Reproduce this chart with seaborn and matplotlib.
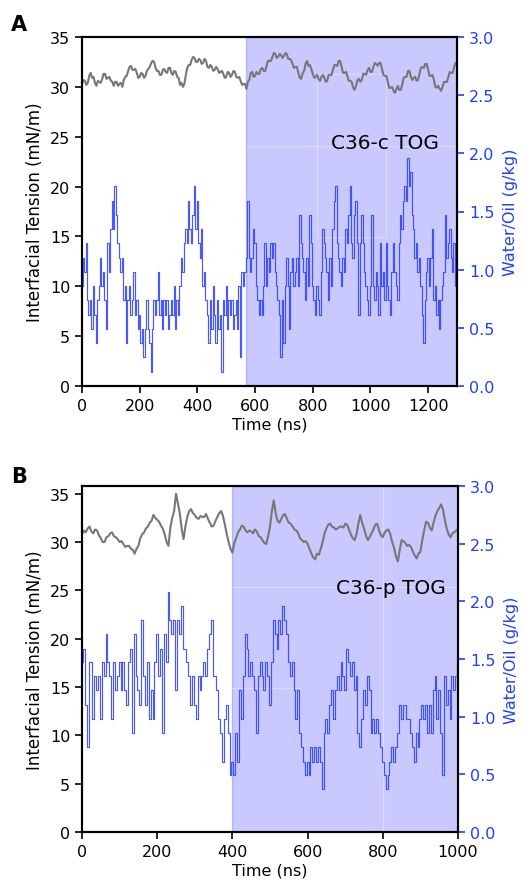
import numpy as np
import matplotlib
matplotlib.use("Agg")
import matplotlib.pyplot as plt
import seaborn as sns

sns.set_style("ticks")
plt.rcParams['font.family'] = ['DejaVu Sans']
plt.rcParams['text.color'] = 'black'
plt.rcParams['axes.labelcolor'] = 'black'
plt.rcParams['xtick.color'] = 'black'
plt.rcParams['ytick.color'] = 'black'

# ---------------- Panel A data (C36-c TOG) ----------------
time_a_w = np.arange(0, 1301, 5)
water_a = [
    0.86, 1.10, 0.98, 1.23, 0.74, 0.61, 0.74, 0.49, 0.86, 0.61,
    0.37, 0.74, 0.86, 1.10, 0.86, 0.98, 0.74, 0.49, 1.23, 0.98,
    1.35, 1.59, 1.35, 1.72, 1.47, 1.23, 1.10, 0.98, 1.10, 0.74,
    0.86, 0.37, 0.74, 0.86, 0.61, 0.74, 0.98, 0.61, 0.74, 0.49,
    0.61, 0.37, 0.49, 0.25, 0.49, 0.74, 0.49, 0.37, 0.12, 0.49,
    0.74, 0.61, 0.74, 0.98, 0.61, 0.74, 0.49, 0.74, 0.61, 0.74,
    0.49, 0.61, 0.74, 0.61, 0.86, 0.49, 0.74, 0.61, 0.86, 1.10,
    0.98, 1.23, 1.35, 1.23, 1.59, 1.35, 1.23, 1.47, 1.72, 1.35,
    1.59, 1.23, 1.10, 1.35, 0.86, 0.98, 0.74, 0.61, 0.37, 0.74,
    0.49, 0.86, 0.61, 0.37, 0.74, 0.49, 0.61, 0.12, 0.74, 0.61,
    0.86, 0.49, 0.74, 0.61, 0.74, 0.49, 0.61, 0.74, 0.49, 0.86,
    0.25, 0.98, 0.86, 0.98, 1.10, 1.59, 1.10, 0.98, 1.10, 1.35,
    1.23, 0.86, 0.74, 0.61, 0.74, 0.61, 0.86, 1.23, 0.86, 1.10,
    0.98, 1.23, 1.10, 1.23, 0.98, 0.86, 0.74, 0.61, 0.25, 0.74,
    0.37, 0.86, 1.10, 0.86, 0.49, 0.98, 1.10, 0.86, 0.98, 1.10,
    0.86, 1.47, 1.23, 1.10, 0.98, 0.74, 1.10, 0.86, 1.47, 1.23,
    0.86, 0.74, 0.61, 0.86, 0.74, 0.61, 0.98, 1.35, 1.23, 1.10,
    0.98, 0.74, 1.10, 0.86, 1.35, 1.59, 1.72, 1.23, 1.10, 0.98,
    0.86, 1.10, 0.98, 1.35, 1.23, 1.47, 1.72, 1.23, 1.10, 1.47,
    1.59, 1.23, 0.61, 1.23, 1.47, 1.23, 0.98, 0.86, 0.74, 0.61,
    0.86, 1.47, 0.86, 0.74, 0.98, 0.86, 0.61, 1.23, 0.86, 0.98,
    0.74, 1.23, 0.86, 0.74, 0.61, 0.98, 1.23, 0.98, 0.86, 0.74,
    1.23, 1.47, 1.35, 1.59, 1.72, 1.59, 1.96, 1.72, 1.84, 1.47,
    1.35, 1.10, 1.23, 0.98, 1.10, 0.86, 0.61, 0.37, 0.74, 0.98,
    1.10, 0.86, 1.10, 1.35, 0.74, 0.86, 0.61, 0.74, 0.49, 0.74,
    0.86, 0.98, 1.47, 1.10, 1.23, 1.35, 1.10, 0.98, 1.23, 0.86,
    1.10,
]

time_a_t = np.arange(0, 1301, 5)
tension_a = [
    30.3, 30.7, 30.6, 30.2, 30.4, 31.1, 31.4, 30.9, 31.0, 30.4,
    30.1, 30.6, 30.5, 30.4, 30.8, 31.3, 31.3, 30.8, 30.9, 31.0,
    30.6, 30.5, 30.1, 30.5, 30.5, 30.1, 30.3, 30.4, 30.0, 30.7,
    31.0, 31.1, 31.6, 32.0, 32.1, 31.7, 31.7, 31.8, 31.4, 30.9,
    31.0, 31.4, 31.3, 30.9, 31.1, 31.6, 31.8, 32.0, 32.4, 32.6,
    32.5, 31.9, 31.6, 31.6, 31.2, 31.2, 31.7, 31.8, 31.5, 31.4,
    31.9, 31.9, 31.4, 31.2, 31.6, 31.5, 31.0, 30.9, 30.2, 30.4,
    30.0, 30.3, 31.2, 31.9, 32.2, 32.2, 32.7, 33.0, 32.9, 32.5,
    32.5, 32.8, 32.7, 32.3, 32.4, 32.8, 32.6, 32.0, 31.9, 32.2,
    32.0, 31.6, 31.7, 32.0, 31.8, 31.4, 31.5, 31.6, 31.3, 30.9,
    31.0, 31.5, 31.4, 31.0, 31.2, 31.6, 31.5, 31.0, 30.9, 31.0,
    30.6, 30.2, 30.3, 30.3, 29.8, 30.5, 30.7, 31.4, 31.5, 31.0,
    31.1, 31.5, 31.3, 31.3, 31.8, 31.9, 31.6, 31.6, 32.1, 32.6,
    32.6, 32.6, 33.0, 33.4, 33.3, 32.9, 33.0, 33.3, 33.2, 32.9,
    33.1, 33.4, 33.3, 32.8, 32.8, 32.7, 32.3, 31.9, 32.0, 32.0,
    31.4, 30.9, 30.8, 31.4, 31.6, 32.3, 32.6, 32.1, 32.2, 31.8,
    31.3, 30.9, 31.0, 31.2, 30.8, 30.6, 31.0, 31.2, 30.9, 30.5,
    30.6, 31.2, 31.2, 31.2, 31.7, 32.2, 32.2, 32.1, 32.6, 32.6,
    32.0, 31.4, 31.4, 31.5, 31.1, 30.6, 30.6, 30.5, 29.9, 29.7,
    30.1, 30.7, 30.8, 30.5, 30.7, 31.3, 31.3, 31.2, 31.7, 31.9,
    31.5, 31.5, 32.0, 32.4, 32.3, 32.1, 32.4, 32.4, 31.8, 31.2,
    31.1, 31.1, 30.5, 29.9, 29.9, 30.0, 29.6, 29.4, 29.8, 30.1,
    29.7, 29.7, 30.2, 30.9, 31.0, 31.0, 31.6, 31.6, 31.0, 30.7,
    30.9, 31.0, 30.6, 30.7, 31.3, 31.9, 32.0, 31.9, 32.3, 32.3,
    31.7, 31.1, 31.1, 31.2, 30.7, 30.0, 29.9, 30.1, 29.8, 29.6,
    30.0, 30.5, 30.5, 30.5, 31.0, 31.5, 31.4, 31.4, 32.0, 32.4,
    32.2,
]

# ---------------- Panel B data (C36-p TOG) ----------------
time_b_w = np.arange(0, 1001, 5)
water_b = [
    1.47, 1.59, 1.10, 0.74, 1.47, 1.47, 0.98, 1.35, 1.23, 1.35,
    0.98, 1.47, 1.35, 1.72, 1.47, 1.35, 0.98, 1.47, 1.23, 1.35,
    1.47, 1.23, 1.47, 1.23, 1.10, 1.47, 1.59, 0.86, 1.72, 1.35,
    1.23, 1.10, 1.84, 1.35, 1.10, 1.47, 0.98, 1.23, 0.98, 1.47,
    1.72, 1.35, 1.59, 0.86, 1.72, 1.47, 2.08, 1.84, 1.72, 1.84,
    1.23, 1.84, 1.72, 1.96, 1.59, 1.59, 1.47, 1.35, 1.10, 1.35,
    1.10, 0.98, 1.35, 1.23, 1.35, 1.47, 1.35, 1.59, 1.72, 1.84,
    1.35, 1.35, 1.23, 0.98, 0.86, 0.61, 0.98, 1.10, 0.86, 0.49,
    0.61, 0.49, 0.86, 0.61, 1.23, 0.98, 1.35, 1.72, 1.59, 1.35,
    1.47, 1.35, 1.23, 0.86, 1.35, 1.47, 1.35, 1.23, 1.47, 1.35,
    1.10, 1.47, 1.84, 1.72, 1.59, 1.84, 1.72, 1.96, 1.84, 1.72,
    1.47, 1.35, 1.47, 1.23, 0.98, 1.23, 0.86, 0.74, 0.61, 0.49,
    0.61, 0.49, 0.74, 0.61, 0.74, 0.61, 0.74, 0.61, 0.37, 0.86,
    0.98, 0.86, 1.10, 1.23, 0.98, 1.23, 1.35, 1.23, 1.47, 1.35,
    1.23, 1.59, 1.47, 1.35, 1.47, 1.23, 1.35, 0.86, 0.74, 0.98,
    1.23, 1.10, 1.35, 1.23, 0.86, 0.98, 0.86, 0.98, 0.86, 0.74,
    0.61, 0.49, 0.37, 0.49, 0.61, 0.74, 0.61, 0.74, 0.86, 1.10,
    0.98, 1.10, 1.10, 0.98, 0.98, 0.86, 0.74, 0.61, 0.86, 0.74,
    0.98, 1.10, 0.98, 1.10, 0.86, 1.10, 0.86, 1.23, 1.35, 0.98,
    1.23, 0.86, 0.49, 1.35, 1.10, 1.23, 0.98, 1.35, 1.23, 1.35,
    1.47,
]

time_b_t = np.arange(0, 1001, 5)
tension_b = [
    30.8, 31.2, 31.0, 31.4, 31.6, 31.1, 30.9, 31.3, 31.2, 30.7,
    30.4, 30.0, 30.0, 30.5, 30.6, 30.9, 31.0, 30.6, 30.5, 30.3,
    30.0, 30.1, 29.8, 29.5, 29.6, 29.6, 29.3, 29.2, 28.8, 29.3,
    29.6, 30.4, 30.8, 31.0, 31.4, 31.6, 32.0, 32.2, 32.8, 32.5,
    32.3, 32.1, 31.7, 31.4, 30.8, 30.0, 29.6, 31.5, 32.5, 33.2,
    35.0, 34.0, 33.0, 31.4, 30.3, 31.6, 32.6, 33.2, 33.4, 33.0,
    32.8, 32.5, 32.4, 32.7, 32.6, 32.6, 32.9, 32.4, 32.0, 31.6,
    31.7, 32.2, 32.6, 33.0, 33.2, 32.7, 31.8, 30.8, 30.0, 29.3,
    28.9, 29.9, 30.4, 31.0, 31.3, 31.7, 31.6, 31.2, 31.0, 31.2,
    31.1, 30.9, 31.3, 31.1, 30.6, 30.5, 30.2, 29.9, 29.8, 30.6,
    31.6, 33.2, 34.3, 33.0, 32.2, 32.0, 32.4, 32.8, 32.9, 32.4,
    32.0, 31.9, 31.6, 31.3, 31.2, 30.9, 30.4, 30.2, 30.0, 30.1,
    29.8, 29.3, 28.8, 28.4, 28.2, 28.8, 28.7, 29.3, 30.0, 30.9,
    31.4, 31.8, 31.9, 31.6, 31.5, 31.3, 31.4, 31.6, 31.6, 31.5,
    31.9, 31.8, 31.3, 30.8, 30.4, 30.2, 30.8, 31.9, 32.8, 32.0,
    31.4, 30.7, 30.2, 30.5, 30.9, 31.3, 31.8, 31.9, 31.2, 30.7,
    30.5, 31.0, 31.2, 31.3, 30.8, 30.0, 29.4, 28.5, 28.0, 29.2,
    30.2, 30.1, 29.9, 29.6, 29.7, 29.5, 29.0, 28.6, 28.3, 28.8,
    29.0, 30.2, 31.2, 32.1, 32.0, 31.5, 31.2, 32.0, 32.7, 33.2,
    33.5, 33.9, 33.4, 32.3, 31.4, 30.8, 30.5, 30.9, 31.0, 31.2,
    31.3,
]

shade_start = [567, 400]
x_max = [1300, 1000]
x_ticks = [list(range(0, 1201, 200)), list(range(0, 1001, 200))]
left_top = [35.0, 35.8]
labels = ["C36-c TOG", "C36-p TOG"]
letters = ["A", "B"]

GRAY = "#777777"
LINEBLUE = "#2a3cff"
AXBLUE = "#1f3fff"

W, H = 523, 887
fig = plt.figure(figsize=(W / 100, H / 100), dpi=100)
axA = fig.add_axes([82 / W, 1 - 387 / H, 375 / W, 349 / H])
axB = fig.add_axes([82 / W, 1 - 833 / H, 376 / W, 346 / H])

datasets = [
    (time_a_t, tension_a, time_a_w, water_a),
    (time_b_t, tension_b, time_b_w, water_b),
]

for i, ax in enumerate([axA, axB]):
    tt, ten, tw, wat = datasets[i]
    ax.axvspan(shade_start[i], x_max[i], facecolor="blue", alpha=0.21,
               edgecolor="blue", lw=1.0, zorder=0)
    sns.lineplot(x=tt, y=ten, ax=ax, color=GRAY, lw=1.5, zorder=2)
    ax.set_xlim(0, x_max[i])
    ax.set_ylim(0, left_top[i])
    ax.set_yticks(range(0, 36, 5))
    ax.set_xticks(x_ticks[i])
    ax.set_xlabel("Time (ns)", fontsize=11.5, labelpad=3)
    ax.set_ylabel("Interfacial Tension (mN/m)", fontsize=12, labelpad=4)
    ax.tick_params(axis="both", labelsize=11.5, length=5, width=1.2,
                   direction="out", colors="black")

    ax2 = ax.twinx()
    sns.lineplot(x=tw, y=wat, ax=ax2, color=LINEBLUE, lw=0.85, alpha=0.85,
                 drawstyle="steps-mid")
    ax2.set_ylim(0, 3.0)
    ax2.set_yticks(np.arange(0, 3.01, 0.5))
    ax2.set_yticklabels([f"{v:.1f}" for v in np.arange(0, 3.01, 0.5)])
    ax2.tick_params(axis="y", colors=AXBLUE, labelsize=11.5, length=5, width=1.2)
    ax2.set_ylabel("Water/Oil (g/kg)", color=AXBLUE, fontsize=11.5, labelpad=6)
    ax2.set_xlim(0, x_max[i])

    for a in (ax, ax2):
        for s in a.spines.values():
            s.set_linewidth(1.5)
            s.set_color("black")
            s.set_visible(True)

    ax2.text(0.808 if i == 0 else 0.822, 0.699 if i == 0 else 0.708, labels[i],
             transform=ax2.transAxes, ha="center", va="center", fontsize=14.5,
             color="black")

# faint white guide lines visible inside the shaded regions
axA.plot([shade_start[0], x_max[0]], [24.07, 24.07], color="white", alpha=0.35, lw=0.8, zorder=1)
axA.add_patch(plt.Rectangle((814, 14.9), 240, 16.4, fill=False, edgecolor="white",
                            alpha=0.35, lw=0.8, zorder=1))
axB.plot([shade_start[1], x_max[1]], [25.4, 25.4], color="white", alpha=0.35, lw=0.8, zorder=1)
axB.plot([shade_start[1], 580], [14.87, 14.87], color="white", alpha=0.35, lw=0.8, zorder=1)
axB.plot([800, 800], [0, left_top[1]], color="white", alpha=0.35, lw=0.8, zorder=1)

fig.text(19 / W, 1 - 25 / H, letters[0], fontsize=15, fontweight="bold", ha="center",
         va="center", color="black")
fig.text(19 / W, 1 - 477 / H, letters[1], fontsize=15, fontweight="bold", ha="center",
         va="center", color="black")

fig.savefig("out.png", dpi=100)
